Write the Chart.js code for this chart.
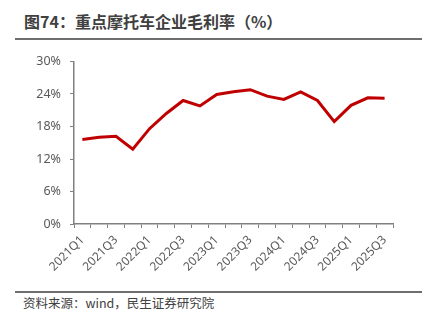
<!DOCTYPE html>
<html>
<head>
<meta charset="utf-8">
<script src="https://cdn.jsdelivr.net/npm/chart.js@4/dist/chart.umd.min.js"></script>
<style>
  html, body { margin: 0; padding: 0; background: #fff; }
  body { width: 433px; height: 325px; position: relative; overflow: hidden; font-family: "Noto Sans CJK SC", "Liberation Sans", sans-serif; }
  #title { position: absolute; left: 24px; top: 9px; font-size: 16px; font-weight: bold; color: #404040; white-space: nowrap; line-height: 24px; }
  #topline { position: absolute; left: 15px; top: 38px; width: 407px; height: 2px; background: #6e6e6e; }
  #botline { position: absolute; left: 15px; top: 291px; width: 407px; height: 2px; background: #6e6e6e; }
  #footer { position: absolute; left: 23px; top: 294px; font-size: 12.5px; color: #404040; white-space: nowrap; line-height: 18px; }
  #wrap { position: absolute; left: 0; top: 45px; width: 433px; height: 245px; }
</style>
</head>
<body>
<div id="title">图74：重点摩托车企业毛利率（%）</div>
<div id="topline"></div>
<div id="wrap"><canvas id="c" width="433" height="245"></canvas></div>
<div id="botline"></div>
<div id="footer">资料来源：wind，民生证券研究院</div>
<script>
const categories = ["2021Q1","2021Q2","2021Q3","2021Q4","2022Q1","2022Q2","2022Q3","2022Q4","2023Q1","2023Q2","2023Q3","2023Q4","2024Q1","2024Q2","2024Q3","2024Q4","2025Q1","2025Q2","2025Q3"];
const grossMargin = [15.6, 16.0, 16.2, 13.8, 17.6, 20.4, 22.8, 21.8, 23.9, 24.4, 24.8, 23.6, 23.0, 24.4, 22.8, 18.9, 21.9, 23.3, 23.2];
const yTicks = [0, 6, 12, 18, 24, 30];

new Chart(document.getElementById('c'), {
  type: 'line',
  data: {
    labels: categories,
    datasets: [{
      data: grossMargin,
      borderColor: '#C00000',
      borderWidth: 3,
      pointRadius: 0,
      fill: false,
      tension: 0
    }]
  },
  options: {
    responsive: false,
    animation: false,
    events: [],
    layout: { padding: { top: 14, right: 40, left: 0, bottom: 0 } },
    plugins: { legend: { display: false }, tooltip: { enabled: false } },
    scales: {
      x: {
        offset: true,
        grid: { display: true, offset: true, drawOnChartArea: false, tickLength: 4, color: '#808080', lineWidth: 1 },
        border: { display: true, color: '#808080', width: 1.5 },
        ticks: {
          autoSkip: false, maxRotation: 45, minRotation: 45, padding: 5,
          color: '#595959', font: { size: 12, family: '"Noto Sans", sans-serif' },
          callback: function(v, i) { return i % 2 === 0 ? categories[i] : ''; }
        },
        afterFit: function(s) { s.height = 66; }
      },
      y: {
        min: 0, max: 30,
        afterBuildTicks: function(s) { s.ticks = yTicks.map(v => ({ value: v })); },
        grid: { display: true, drawOnChartArea: false, tickLength: 4, color: '#808080' },
        border: { display: true, color: '#808080', width: 1.5 },
        ticks: {
          color: '#595959', padding: 9, font: { size: 12.5, family: '"Noto Sans", sans-serif' },
          callback: function(v) { return v + '%'; }
        },
        afterFit: function(s) { s.width = 74; }
      }
    }
  }
});
</script>
</body>
</html>
